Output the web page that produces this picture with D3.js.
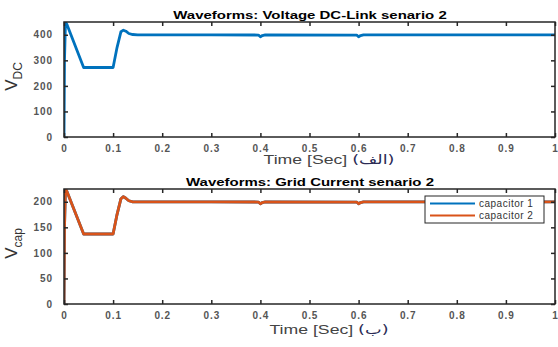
<!DOCTYPE html>
<html>
<head>
<meta charset="utf-8">
<script src="https://cdn.jsdelivr.net/npm/d3@7"></script>
<style>
body { margin: 0; background: #fff; }
svg text { font-family: "Liberation Sans", Arial, sans-serif; }
</style>
</head>
<body>
<div id="chart"></div>
<script>
// time samples (sec)
var timeVdc = [0, 0.001, 0.003, 0.006, 0.04, 0.1, 0.108, 0.116, 0.121, 0.126, 0.132, 0.14, 0.15, 0.2, 0.3, 0.396, 0.4, 0.404, 0.41, 0.596, 0.6, 0.604, 0.61, 0.8, 1];
var vdc = [0, 300, 450, 440, 272, 272, 350, 412, 418, 414, 405, 401, 400, 400, 400, 399, 392, 397, 400, 399, 392, 397, 400, 400, 400];

var timeCap = [0, 0.001, 0.003, 0.006, 0.04, 0.1, 0.108, 0.116, 0.121, 0.126, 0.132, 0.14, 0.15, 0.2, 0.3, 0.396, 0.4, 0.404, 0.41, 0.596, 0.6, 0.604, 0.61, 0.8, 1];
var cap1 = [0, 150, 225, 220, 137, 137, 175, 206, 210, 207, 202, 200, 200, 200, 200, 199.5, 196, 198.5, 200, 199.5, 196, 198.5, 200, 200, 200];
var cap2 = [0, 150, 225, 220, 137, 137, 175, 206, 210, 207, 202, 200, 200, 200, 200, 199.5, 196, 198.5, 200, 199.5, 196, 198.5, 200, 200, 200];

var xTicks = [0, 0.1, 0.2, 0.3, 0.4, 0.5, 0.6, 0.7, 0.8, 0.9, 1];
var yTicksTop = [0, 100, 200, 300, 400];
var yTicksBot = [0, 50, 100, 150, 200];
var seriesNames = ["capacitor 1", "capacitor 2"];
var colors = ["#0072BD", "#D95319"];

var W = 558, H = 347;
var svg = d3.select("#chart").append("svg")
  .attr("width", W).attr("height", H);

var left = 64, right = 555;
var stretch = 1.36; // the picture is wider than matlab's own text

function drawPanel(opt) {
  var x = d3.scaleLinear().domain([0, 1]).range([left, right]);
  var y = d3.scaleLinear().domain(opt.yDomain).range([opt.bottom, opt.top]);
  var g = svg.append("g");

  g.append("defs").append("clipPath").attr("id", opt.id)
    .append("rect").attr("x", left).attr("y", opt.top)
    .attr("width", right - left).attr("height", opt.bottom - opt.top);

  // series
  opt.series.forEach(function (s, i) {
    var line = d3.line()
      .x(function (d, j) { return x(opt.time[j]); })
      .y(function (d) { return y(d); });
    g.append("path")
      .datum(s)
      .attr("clip-path", "url(#" + opt.id + ")")
      .attr("fill", "none")
      .attr("stroke", opt.colors[i])
      .attr("stroke-width", 2.8)
      .attr("stroke-linejoin", "round")
      .attr("d", line);
  });

  // axes, ticks inside like matlab
  var tl = 4;
  var xb = d3.axisBottom(x).tickValues(xTicks).tickSize(-tl).tickPadding(7.5)
    .tickFormat(function (d) { return d === 0 || d === 1 ? d3.format("d")(d) : d3.format(".1f")(d); });
  var xt = d3.axisTop(x).tickValues(xTicks).tickSize(-tl).tickFormat("");
  var yl = d3.axisLeft(y).tickValues(opt.yTicks).tickSize(-tl).tickPadding(11);
  var yr = d3.axisRight(y).tickValues(opt.yTicks).tickSize(-tl).tickFormat("");

  function style(a) {
    a.select(".domain").remove();
    a.selectAll(".tick line").attr("stroke", "#262626").attr("stroke-width", 1.5);
    a.selectAll(".tick text").attr("fill", "#555").attr("font-size", 10)
      .attr("font-weight", "bold").attr("letter-spacing", 0.9);
  }
  g.append("g").attr("transform", "translate(0," + opt.bottom + ")").call(xb).call(style);
  g.append("g").attr("transform", "translate(0," + opt.top + ")").call(xt).call(style);
  g.append("g").attr("transform", "translate(" + left + ",0)").call(yl).call(style);
  g.append("g").attr("transform", "translate(" + right + ",0)").call(yr).call(style);

  g.append("rect")
    .attr("x", left).attr("y", opt.top)
    .attr("width", right - left).attr("height", opt.bottom - opt.top)
    .attr("fill", "none").attr("stroke", "#262626").attr("stroke-width", 1.5);

  // title
  g.append("text")
    .attr("transform", "translate(310," + (opt.top - 3) + ") scale(" + stretch + ",1)")
    .attr("text-anchor", "middle")
    .attr("font-size", 11).attr("font-weight", "bold").attr("fill", "#000")
    .text(opt.title);

  // x label
  var xl = g.append("text")
    .attr("transform", "translate(329," + opt.labelY + ") scale(" + stretch + ",1)")
    .attr("text-anchor", "middle")
    .attr("font-size", 13).attr("fill", "#444");
  xl.append("tspan").text("Time [Sec] ");
  xl.append("tspan").attr("fill", "#2b2b55").attr("font-family", "DejaVu Sans").attr("font-size", 13)
    .attr("direction", "rtl").attr("unicode-bidi", "embed").text(opt.tag);

  // y label
  var yc = (opt.top + opt.bottom) / 2 - 3;
  var ylab = g.append("text")
    .attr("transform", "translate(17," + yc + ") rotate(-90)")
    .attr("text-anchor", "middle")
    .attr("font-size", 17).attr("fill", "#333");
  ylab.append("tspan").text("V");
  ylab.append("tspan").attr("font-size", 12).attr("dy", 5).text(opt.sub);

  return { x: x, y: y, g: g };
}

drawPanel({
  id: "clipTop", top: 22, bottom: 137, yDomain: [0, 450], yTicks: yTicksTop,
  time: timeVdc, series: [vdc], colors: [colors[0]], labelY: 164,
  title: "Waveforms: Voltage DC-Link senario 2", tag: "(الف)", sub: "DC"
});

drawPanel({
  id: "clipBot", top: 189, bottom: 304, yDomain: [0, 225], yTicks: yTicksBot,
  time: timeCap, series: [cap1, cap2], colors: colors, labelY: 334,
  title: "Waveforms: Grid Current senario 2", tag: "(ب)", sub: "cap"
});

// legend
var lg = svg.append("g").attr("transform", "translate(425,196)");
lg.append("rect").attr("width", 119).attr("height", 27)
  .attr("fill", "#fff").attr("stroke", "#262626").attr("stroke-width", 1);
seriesNames.forEach(function (n, i) {
  var yy = 7.5 + i * 12;
  lg.append("line").attr("x1", 5).attr("x2", 50).attr("y1", yy).attr("y2", yy)
    .attr("stroke", colors[i]).attr("stroke-width", 2.2);
  lg.append("text").attr("x", 54).attr("y", yy + 3.5)
    .attr("font-size", 10).attr("letter-spacing", 0.5).attr("fill", "#333").text(n);
});
</script>
</body>
</html>
